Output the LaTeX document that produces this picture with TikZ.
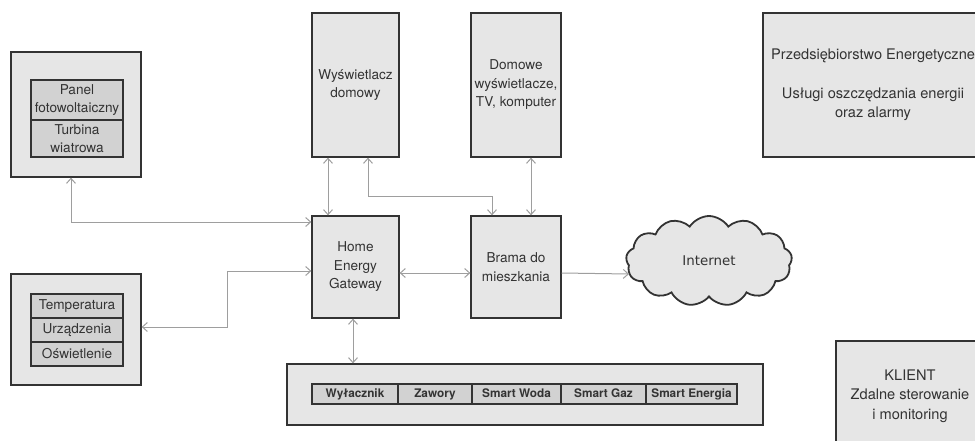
\documentclass[tikz,border=0pt]{standalone}
\usepackage{fontspec}
\setmainfont{TeX Gyre Heros}
\newfontfamily\inetfont{DejaVu Sans}
\usetikzlibrary{arrows.meta,shapes.symbols}
\definecolor{boxfill}{HTML}{E6E6E6}
\definecolor{cellfill}{HTML}{D2D2D2}
\definecolor{edge}{HTML}{333333}
\definecolor{conn}{HTML}{9E9E9E}
\definecolor{txt}{HTML}{333333}
\tikzset{
  bigbox/.style={draw=edge, fill=boxfill, line width=1.3pt, inner sep=0pt, align=center,
    text=txt, font=\fontsize{13.6}{18.5}\selectfont},
  cellbox/.style={draw=edge, fill=cellfill, line width=1.3pt, inner sep=0pt, align=center,
    text=txt, font=\fontsize{13.6}{18.5}\selectfont},
  buscell/.style={cellbox, minimum height=20pt, text height=8.5pt, text depth=2.5pt,
    font=\bfseries\fontsize{11.8}{14}\selectfont},
  rightbox/.style={bigbox, font=\fontsize{14.6}{19.5}\selectfont},
  arr/.style={draw=conn, line width=1pt, {Straight Barb[length=5pt,width=9pt]}-{Straight Barb[length=5pt,width=9pt]}},
  arrone/.style={draw=conn, line width=1pt, -{Straight Barb[length=5pt,width=9pt]}}
}
\begin{document}
\begin{tikzpicture}[x=1pt,y=-1pt]
\useasboundingbox (0,0) rectangle (975,440);
\clip (0,0) rectangle (975,440);
% energy sources
\node[bigbox, minimum width=130pt, minimum height=125pt] (src) at (76,114.5) {};
\node[cellbox, minimum width=92pt, minimum height=40pt] (pv) at (77,100) {Panel\\fotowoltaiczny};
\node[cellbox, minimum width=92pt, minimum height=37pt] (wt) at (77,138.5) {Turbina\\wiatrowa};
% devices
\node[bigbox, minimum width=130pt, minimum height=111pt] (dev) at (76,329.5) {};
\node[cellbox, minimum width=92pt, minimum height=24pt] (temp) at (77,306) {Temperatura};
\node[cellbox, minimum width=92pt, minimum height=24pt] (urz) at (77,330) {Urządzenia};
\node[cellbox, minimum width=92pt, minimum height=24pt] (osw) at (77,354) {Oświetlenie};
% displays
\node[bigbox, minimum width=87pt, minimum height=144pt] (disp) at (355.5,85) {Wyświetlacz\\domowy};
\node[bigbox, minimum width=90pt, minimum height=144pt] (tv) at (516,85) {Domowe\\wyświetlacze,\\TV, komputer};
% gateways
\node[bigbox, minimum width=87pt, minimum height=102pt] (heg) at (355.5,267) {Home\\Energy\\Gateway};
\node[bigbox, minimum width=90pt, minimum height=102pt] (brama) at (516,267) {Brama do\\mieszkania};
% bus
\node[bigbox, minimum width=476pt, minimum height=61pt] (bus) at (525,394.5) {};
\node[buscell, minimum width=86pt] (c1) at (355,394) {Wyłacznik};
\node[buscell, minimum width=74pt] (c2) at (435,394) {Zawory};
\node[buscell, minimum width=89pt] (c3) at (516.5,394) {Smart Woda};
\node[buscell, minimum width=85pt] (c4) at (603.5,394) {Smart Gaz};
\node[buscell, minimum width=91pt] (c5) at (691.5,394) {Smart Energia};
% right boxes
\node[rightbox, minimum width=220pt, minimum height=144pt] (util) at (873,85)
  {Przedsiębiorstwo Energetyczne\\[19.5pt]Usługi oszczędzania energii\\oraz alarmy};
\node[rightbox, minimum width=148pt, minimum height=110pt] (klient) at (910,396)
  {KLIENT\\Zdalne sterowanie\\i monitoring};
% cloud
\node[cloud, cloud puffs=13, cloud puff arc=115, aspect=1.8, draw=edge, fill=boxfill,
  line width=1.8pt, minimum width=166pt, minimum height=90pt, inner sep=0pt,
  text=txt, font=\inetfont\fontsize{13.4}{16}\selectfont] (cloud) at (709,261) {Internet};
\coordinate (cin) at (629,274);
% connectors
\draw[arr] ([xshift=-5pt]src.south) |- ([yshift=45pt]heg.west);
\draw[arr] ([yshift=2.5pt]dev.east) -- ++(86,0) |- ([yshift=-4pt]heg.west);
\draw[arr] ([xshift=-27.5pt]disp.south) -- ([xshift=-27.5pt]heg.north);
\draw[arr] ([xshift=12.5pt]disp.south) -- ++(0,39) -| ([xshift=-24pt]brama.north);
\draw[arr] ([xshift=15pt]tv.south) -- ([xshift=15pt]brama.north);
\draw[arr] ([yshift=-6pt]heg.east) -- ([yshift=-6pt]brama.west);
\draw[arrone] ([yshift=-6pt]brama.east) -- (cin);
\draw[arr] ([xshift=-2.5pt]heg.south) -- ([xshift=-2.5pt]heg.south |- bus.north);
\end{tikzpicture}
\end{document}
